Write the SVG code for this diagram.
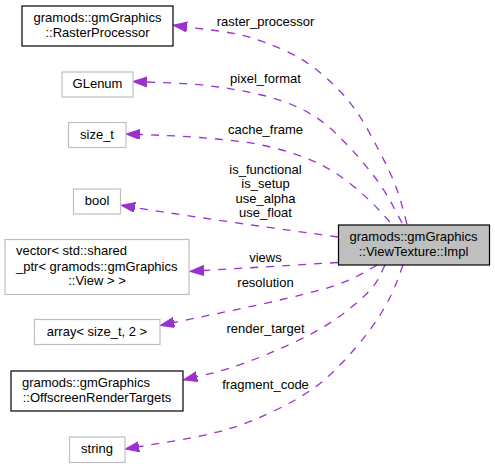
<svg xmlns="http://www.w3.org/2000/svg" width="495" height="469" viewBox="0 0 495 469">
<style>
text{font-family:"Liberation Sans",Arial,sans-serif;font-size:13px;fill:#000}
.c{text-anchor:middle}
.s{text-anchor:start}
.nb{fill:#fff;stroke:#000;stroke-width:1.2}
.ng{fill:#fff;stroke:#bfbfbf;stroke-width:1.2}
.ni{fill:#bfbfbf;stroke:#000;stroke-width:1.2}
.e{fill:none;stroke:#9a32cd;stroke-width:1.3;stroke-dasharray:8,8;marker-end:url(#ah)}
</style>
<defs>
<marker id="ah" markerUnits="userSpaceOnUse" markerWidth="16" markerHeight="12" refX="0" refY="5" orient="auto" viewBox="0 0 16 12">
<path d="M0,0 L14,5 L0,10 z" fill="#9a32cd" stroke="#9a32cd" stroke-width="1"/>
</marker>
</defs>
<rect width="495" height="469" fill="#fff"/>
<g id="edges">
<path class="e" d="M407,224 L402,205.5 Q397,187 388.5,169.5 Q380,152 368.5,131 Q357,110 343.5,95 Q330,80 315,68.5 Q300,57 282.5,49.5 Q265,42 250.5,37.5 Q236,33 211,30 L187,27"/>
<text class="c" x="265.5" y="26">raster_processor</text>
<path class="e" d="M402,223 L392.5,205 Q383,187 368,168.5 Q353,150 336.5,134 Q320,118 301.5,109 Q283,100 261.5,95 Q240,90 218.5,87 Q197,84 172.5,83 L147,82"/>
<text class="c" x="265.5" y="83">pixel_format</text>
<path class="e" d="M390,222 L378.5,209.5 Q367,197 350,183.5 Q333,170 316.5,162.5 Q300,155 280,149.5 Q260,144 240,141.5 Q220,139 200,137.5 Q180,136 160,135.3 L140,134.5"/>
<text class="c" x="265.5" y="134">cache_frame</text>
<path class="e" d="M338,237 C280,229 200,218 135,207.5"/>
<text class="c" x="265.5" y="173.5">is_functional</text>
<text class="c" x="265.5" y="188">is_setup</text>
<text class="c" x="265.5" y="202.5">use_alpha</text>
<text class="c" x="265.5" y="217">use_float</text>
<path class="e" d="M338,262.5 L204,270.5"/>
<text class="c" x="265.5" y="262">views</text>
<path class="e" d="M377,265 C360,276 340,285 320,290 C280,301 220,313 174,322.5"/>
<text class="c" x="265.5" y="287">resolution</text>
<path class="e" d="M385,265 L379,277.5 Q373,290 350,308.5 Q327,327 297,341 Q267,355 246,362.5 Q225,370 211,373.4 L197,376.7"/>
<text class="c" x="265.5" y="333">render_target</text>
<path class="e" d="M403,265 L397.5,280 Q392,295 382.5,311 Q373,327 358,345 Q343,363 326.5,378 Q310,393 280,408 Q250,423 225,430 Q200,436.7 170,441.7 L139,446.7"/>
<text class="c" x="265.5" y="389">fragment_code</text>
</g>
<g id="node_impl">
<rect class="ni" x="338.5" y="225" width="151" height="40"/>
<text class="c" x="413.5" y="241">gramods::gmGraphics</text>
<text class="c" x="413.5" y="255.5">::ViewTexture::Impl</text>
</g>
<g id="node_raster">
<rect class="nb" x="22" y="6" width="151" height="40"/>
<text class="c" x="97.5" y="21.7">gramods::gmGraphics</text>
<text class="c" x="97.5" y="36.7">::RasterProcessor</text>
</g>
<g id="node_glenum">
<rect class="ng" x="62" y="72" width="71" height="25"/>
<text class="c" x="97.5" y="87.5">GLenum</text>
</g>
<g id="node_size_t">
<rect class="ng" x="68.5" y="122.5" width="57.5" height="25"/>
<text class="c" x="97" y="138.5">size_t</text>
</g>
<g id="node_bool">
<rect class="ng" x="73.5" y="189" width="47" height="25"/>
<text class="c" x="97" y="205">bool</text>
</g>
<g id="node_vector">
<rect class="ng" x="5" y="239.5" width="184" height="55"/>
<text class="s" x="16" y="255">vector&lt; std::shared</text>
<text class="s" x="16" y="270.5">_ptr&lt; gramods::gmGraphics</text>
<text class="c" x="97" y="285">::View &gt; &gt;</text>
</g>
<g id="node_array">
<rect class="ng" x="34.5" y="319.5" width="125.5" height="25"/>
<text class="c" x="97" y="336">array&lt; size_t, 2 &gt;</text>
</g>
<g id="node_offscreen">
<rect class="nb" x="11" y="371" width="172" height="40"/>
<text class="s" x="22" y="386.7">gramods::gmGraphics</text>
<text class="c" x="97" y="401.7">::OffscreenRenderTargets</text>
</g>
<g id="node_string">
<rect class="ng" x="69.5" y="437" width="55.5" height="25.5"/>
<text class="c" x="97" y="452.7">string</text>
</g>
</svg>
